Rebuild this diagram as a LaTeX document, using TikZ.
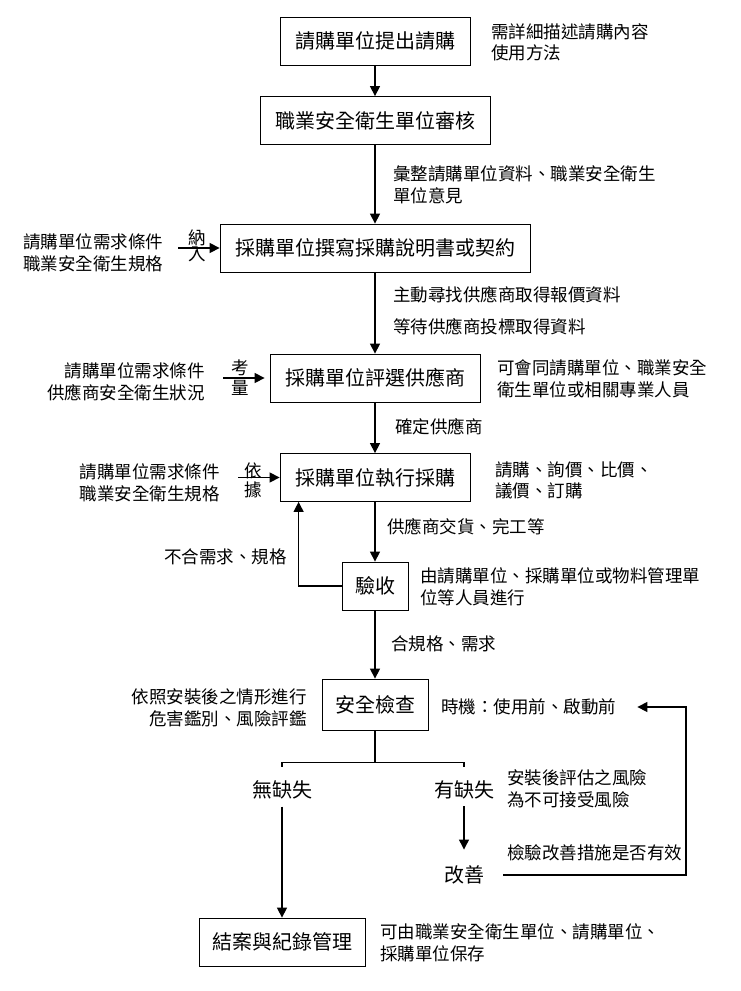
\documentclass[tikz,border=0pt]{standalone}
\usepackage{fontspec}
\setmainfont{Noto Sans CJK TC}
\usepackage{tikz}
\usetikzlibrary{arrows.meta}

\begin{document}
\begin{tikzpicture}[x=1pt, y=-1pt,
    box/.style={draw, line width=0.8pt, minimum height=48pt, inner xsep=15pt, font=\fontsize{20}{24}\selectfont},
    note/.style={inner sep=0pt, align=left, anchor=west, font=\fontsize{17.5}{21.5}\selectfont},
    tag/.style={inner sep=0pt, font=\fontsize{17.5}{21.5}\selectfont},
    outcome/.style={inner xsep=0pt, inner ysep=7pt, font=\fontsize{20}{24}\selectfont},
    line/.style={line width=1.3pt},
    arr/.style={line, -{Triangle[width=10pt, length=10pt]}}]
  \useasboundingbox (0,0) rectangle (740,991);

  \node[box] (req) at (375,41) {請購單位提出請購};
  \node[box] (review) at (375,120.5) {職業安全衛生單位審核};
  \node[box] (write) at (375,248) {採購單位撰寫採購說明書或契約};
  \node[box] (select) at (375,378) {採購單位評選供應商};
  \node[box] (exec) at (375,477.5) {採購單位執行採購};
  \node[box, inner xsep=13pt] (accept) at (375,586) {驗收};
  \node[box, inner xsep=13pt, minimum height=51pt] (check) at (375,704.5) {安全檢查};
  \node[box, inner xsep=13pt] (close) at (282,942) {結案與紀錄管理};

  \node[note] (reqnote) at (491,42.5) {需詳細描述請購內容\\使用方法};
  \node[note] (reviewnote) at (393,185) {彙整請購單位資料、職業安全衛生\\單位意見};
  \node[note] (quote) at (393,295) {主動尋找供應商取得報價資料};
  \node[note] (tender) at (393,327) {等待供應商投標取得資料};
  \node[note] (selectnote) at (497,379) {可會同請購單位、職業安全\\衛生單位或相關專業人員};
  \node[note] (decide) at (395,427) {確定供應商};
  \node[note] (execnote) at (495,480.5) {請購、詢價、比價、\\議價、訂購};
  \node[note] (deliver) at (387,527) {供應商交貨、完工等};
  \node[note, anchor=east] (reject) at (287,557) {不合需求、規格};
  \node[note] (acceptnote) at (420,587) {由請購單位、採購單位或物料管理單\\位等人員進行};
  \node[note] (pass) at (391,644) {合規格、需求};
  \node[note, align=right, anchor=east] (checknote) at (307,708) {依照安裝後之情形進行\\危害鑑別、風險評鑑};
  \node[note] (timing) at (441,707) {時機：使用前、啟動前};
  \node[note] (risknote) at (507,789) {安裝後評估之風險\\為不可接受風險};
  \node[note] (verify) at (507,853) {檢驗改善措施是否有效};
  \node[note] (closenote) at (380,943) {可由職業安全衛生單位、請購單位、\\採購單位保存};

  \node[note] (needA) at (23,253) {請購單位需求條件\\職業安全衛生規格};
  \node[note, align=right, anchor=east] (needB) at (205,382) {請購單位需求條件\\供應商安全衛生狀況};
  \node[note, align=right, anchor=east] (needC) at (220,483) {請購單位需求條件\\職業安全衛生規格};

  \node[outcome] (nodef) at (282,790) {無缺失};
  \node[outcome] (def) at (464,790) {有缺失};
  \node[outcome] (improve) at (464,875) {改善};

  \draw[arr] (req) -- (review);
  \draw[arr] (review) -- (write);
  \draw[arr] (write) -- (select);
  \draw[arr] (select) -- (exec);
  \draw[arr] (exec) -- (accept);
  \draw[arr] (accept) -- (check);

  \draw[arr, shorten <=15pt] (needA.east |- write.west) -- (write.west)
    node[tag, midway, xshift=6pt, yshift=10.5pt] {納} node[tag, midway, xshift=6pt, yshift=-6pt] {入};
  \draw[arr, shorten <=18pt, shorten >=5pt] (needB.east |- select.west) -- (select.west)
    node[tag, midway, xshift=2.5pt, yshift=10pt] {考} node[tag, midway, xshift=2.5pt, yshift=-10pt] {量};
  \draw[arr, shorten <=18pt] (needC.east |- exec.west) -- (exec.west)
    node[tag, midway, xshift=3pt, yshift=6.5pt] {依} node[tag, midway, xshift=3pt, yshift=-12.5pt] {據};

  \draw[arr] (accept.west) -| ([xshift=19pt]exec.south west);

  \draw[line] (check.south) -- ++(0,32) coordinate (split);
  \draw[line, shorten <=7pt, shorten >=7pt] (nodef.north) |- (split) -| (def.north);
  \draw[arr] (nodef) -- (close);
  \draw[arr, shorten >=9pt] (def) -- (improve);
  \coordinate (loopR) at (686,790);
  \draw[arr, shorten <=19pt, shorten >=21pt] (improve.east) -| (loopR) |- (timing.east);
\end{tikzpicture}
\end{document}
